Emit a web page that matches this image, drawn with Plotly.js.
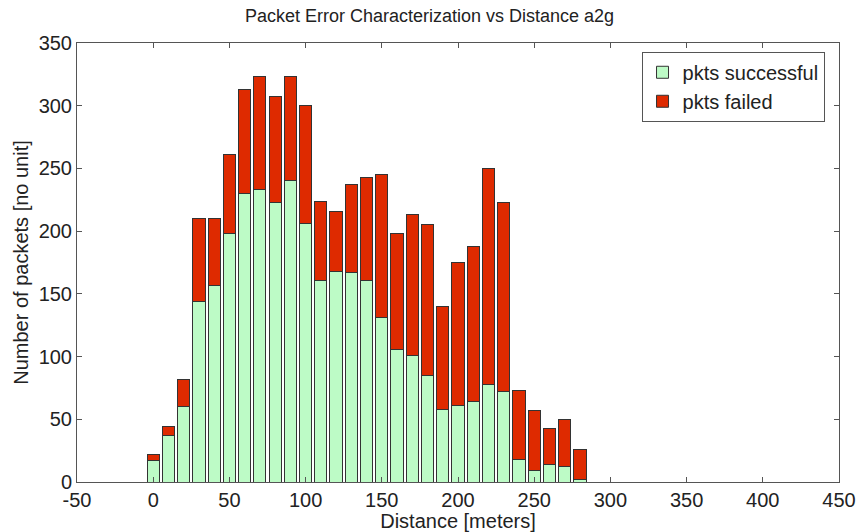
<!DOCTYPE html>
<html><head><meta charset="utf-8">
<script src="https://cdn.plot.ly/plotly-3.0.1.min.js"></script>
<style>html,body{margin:0;padding:0;background:#fff}#chart{width:859px;height:532px}</style>
</head><body><div id="chart"></div>
<script>
const distance = [0,10,20,30,40,50,60,70,80,90,100,110,120,130,140,150,160,170,180,190,200,210,220,230,240,250,260,270,280];
const totalPkts = [22,44,82,210,210,261,313,323,307,323,300,224,216,237,243,245,198,213,205,140,175,188,250,223,73,57,43,50,26];
const pktsSuccessful = [17,37,60,144,157,198,230,233,223,240,206,161,168,167,161,131,106,101,85,58,61,64,78,72,18,9,14,12,2];
const pktsFailed = totalPkts.map((t,i)=>t-pktsSuccessful[i]);
const seriesNames = ["pkts successful","pkts failed"];
const xTicks = [-50,0,50,100,150,200,250,300,350,400,450];
const yTicks = [0,50,100,150,200,250,300,350];

const edge = {color:'#333333', width:1};
const traces = [
 {type:'bar', x:distance, y:pktsSuccessful, name:seriesNames[0], width:8,
  marker:{color:'#bdfbc6', line:edge}},
 {type:'bar', x:distance, y:pktsFailed, name:seriesNames[1], width:8,
  marker:{color:'#de2a00', line:edge}}
];
const axisCommon = {showline:true, linecolor:'#555', linewidth:1, mirror:'ticks', ticks:'inside', ticklen:5, tickcolor:'#555',
  showgrid:false, zeroline:false, automargin:false, tickfont:{size:20, color:'#222'}};
const layout = {
 barmode:'stack', bargap:0,
 width:859, height:532,
 margin:{l:77, r:20, t:43, b:50},
 paper_bgcolor:'#fff', plot_bgcolor:'#fff',
 font:{family:'Liberation Sans, Arial, sans-serif', color:'#222'},
 title:{text:'Packet Error Characterization vs Distance a2g', font:{size:18, color:'#222'}, x:0.5, xanchor:'center', y:0.97, yanchor:'middle'},
 xaxis:Object.assign({}, axisCommon, {range:[-50,450], tickvals:xTicks, ticktext:xTicks.map(String),
   title:{text:'Distance [meters]', font:{size:20}, standoff:0}}),
 yaxis:Object.assign({}, axisCommon, {range:[0,350], tickvals:yTicks, ticktext:yTicks.map(String),
   title:{text:'Number of packets [no unit]', font:{size:20}, standoff:4}}),
 showlegend:true,
 legend:{x:0.981, xanchor:'right', y:0.98, yanchor:'top', bgcolor:'#fff', bordercolor:'#555', borderwidth:1,
   font:{size:20, color:'#222'}, traceorder:'normal', itemwidth:30, tracegroupgap:0}
};
Plotly.newPlot('chart', traces, layout, {staticPlot:true, displayModeBar:false});
</script></body></html>
